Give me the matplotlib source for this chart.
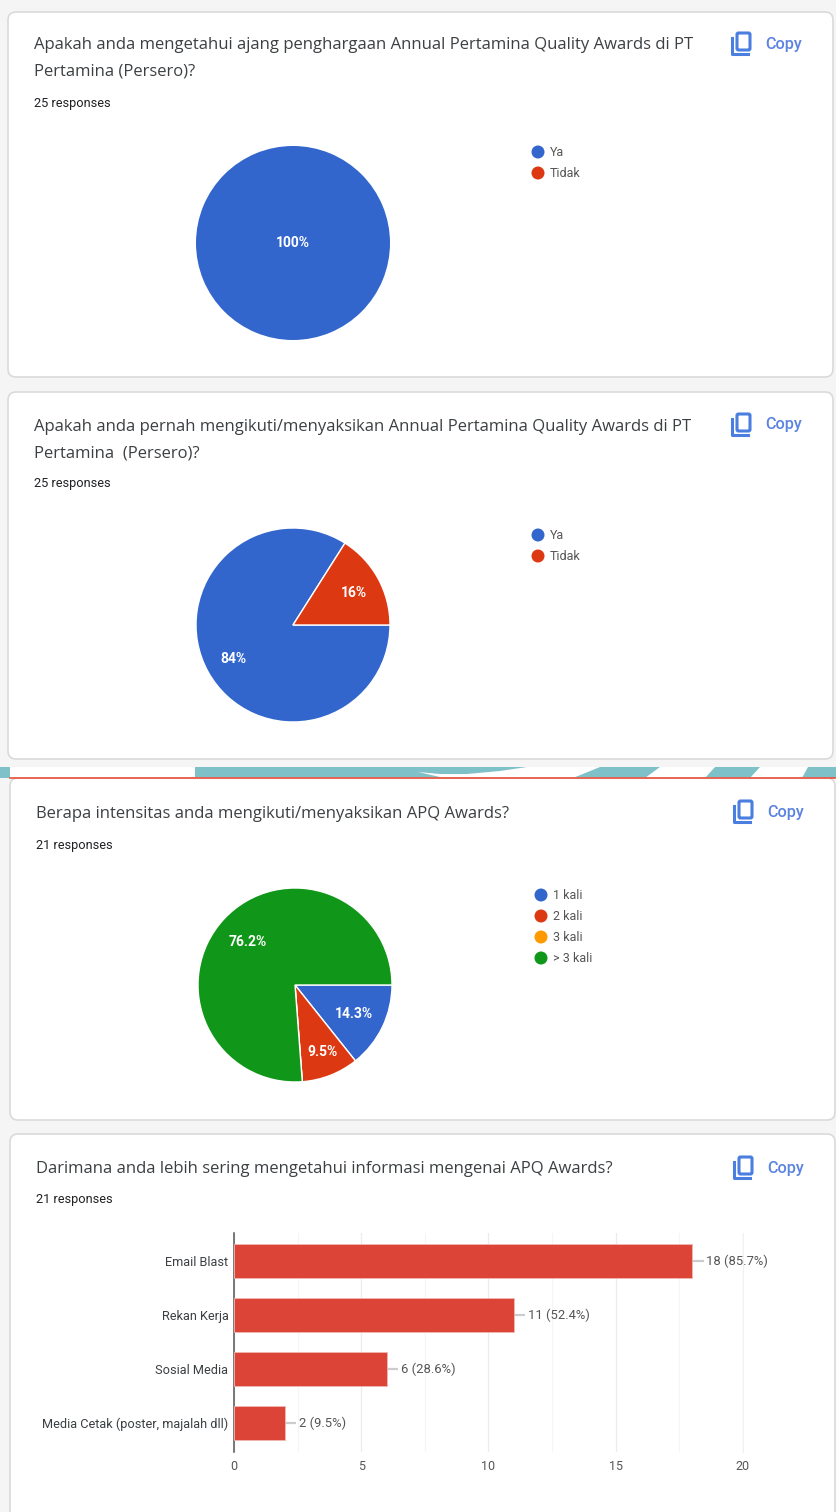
#!/usr/bin/env python3
"""Four Google Forms summary cards: three pies and one bar chart."""

import matplotlib
matplotlib.use("Agg")
import matplotlib.pyplot as plt
from matplotlib.patches import FancyBboxPatch, Polygon, Rectangle, Circle

W, H = 837, 1512

# data
q1_title = ["Apakah anda mengetahui ajang penghargaan Annual Pertamina Quality Awards di PT",
            "Pertamina (Persero)?"]
q2_title = ["Apakah anda pernah mengikuti/menyaksikan Annual Pertamina Quality Awards di PT",
            "Pertamina  (Persero)?"]
q3_title = ["Berapa intensitas anda mengikuti/menyaksikan APQ Awards?"]
q4_title = ["Darimana anda lebih sering mengetahui informasi mengenai APQ Awards?"]

q1_labels = ["Ya", "Tidak"]
q1_values = [100, 0]
q2_labels = ["Ya", "Tidak"]
q2_values = [84, 16]
q3_labels = ["1 kali", "2 kali", "3 kali", "> 3 kali"]
q3_values = [14.3, 9.5, 0, 76.2]

bar_labels = ["Email Blast", "Rekan Kerja", "Sosial Media", "Media Cetak (poster, majalah dll)"]
bar_values = [18, 11, 6, 2]
bar_texts = ["18 (85.7%)", "11 (52.4%)", "6 (28.6%)", "2 (9.5%)"]
bar_ticks = [0, 5, 10, 15, 20]

BLUE = "#3366cc"
RED = "#dc3912"
ORANGE = "#ff9900"
GREEN = "#109618"
TEAL = "#7fc1c9"
PIE_COLORS = [BLUE, RED, ORANGE, GREEN]

plt.rcParams["font.family"] = ["Roboto", "DejaVu Sans"]

fig = plt.figure(figsize=(W / 100, H / 100), dpi=100, facecolor="#f5f5f5")
bg = fig.add_axes([0, 0, 1, 1])
bg.set_xlim(0, W)
bg.set_ylim(H, 0)
bg.axis("off")


def inset(x0, y0, x1, y1):
    """Axes placed by pixel box, y counted from the top."""
    return fig.add_axes([x0 / W, 1 - y1 / H, (x1 - x0) / W, (y1 - y0) / H])


def card(x0, y0, x1, y1):
    bg.add_patch(FancyBboxPatch((x0, y0), x1 - x0, y1 - y0,
                                boxstyle="round,pad=0,rounding_size=8",
                                fc="white", ec="#dadada", lw=1.2))


def header(x, y, lines, responses, resp_y, copy_y, copy_x):
    for i, line in enumerate(lines):
        bg.text(x, y + 1 + i * 27, line, fontsize=11.95, color="#3c4043", va="center",
                family=["Open Sans", "DejaVu Sans"])
    bg.text(x, resp_y + 1, responses, fontsize=9.2, color="#202124", va="center")
    # copy icon
    bg.add_patch(FancyBboxPatch((copy_x + 6, copy_y - 10), 13, 17,
                                boxstyle="round,pad=0,rounding_size=1.5",
                                fc="none", ec="#4a7fe0", lw=2.2))
    bg.plot([copy_x + 1, copy_x + 1, copy_x + 17], [copy_y - 5, copy_y + 11, copy_y + 11],
            color="#4a7fe0", lw=2.2)
    bg.text(copy_x + 34, copy_y + 1, "Copy", fontsize=11.7, color="#5b83e0", va="center",
            fontweight="medium")


def pie_chart(cx, cy, values, labels, text_pos, leg_x, leg_y):
    r = 97
    ax = inset(cx - r, cy - r, cx + r, cy + r)
    edge = "white" if max(values) < 100 else "none"
    ax.pie(values, colors=PIE_COLORS, startangle=0, counterclock=False, radius=1,
           wedgeprops=dict(ec=edge, lw=1.0))
    ax.set_xlim(-1, 1)
    ax.set_ylim(-1, 1)
    ax.patch.set_alpha(0)
    shown = [v for v in values if v > 0]
    for (tx, ty), v in zip(text_pos, shown):
        # text is placed in pie axes units from its pixel position
        ax.text((tx - cx) / r, (cy - ty) / r, f"{v:g}%", fontsize=10, color="white",
                fontweight="bold", ha="center", va="center")
    for i, lab in enumerate(labels):
        y = leg_y + i * 21
        bg.add_patch(Circle((leg_x, y), 6.5, fc=PIE_COLORS[i], ec="none"))
        bg.text(leg_x + 12, y + 0.5, lab, fontsize=9, color="#555555", va="center")


bg.add_patch(Rectangle((0, 767), W, 11, fc=TEAL, ec="none"))
bg.add_patch(Rectangle((10, 767), 185, 11, fc="white", ec="none"))
bg.add_patch(Polygon([(418, 772), (440, 774), (467, 774), (500, 771), (527, 767), (600, 767),
                      (573, 778), (490, 778), (440, 777)], fc="white", ec="none"))
bg.add_patch(Polygon([(645, 778), (660, 767), (715, 767), (705, 778)], fc="white", ec="none"))
bg.add_patch(Polygon([(750, 778), (760, 767), (808, 767), (802, 778)], fc="white", ec="none"))

card(8, 12, 833, 377)
card(8, 392, 833, 759)
card(10, 778, 835, 1120)
card(10, 1134, 835, 1530)
bg.plot([10, 835], [778, 778], color="#e8503a", lw=1.2, zorder=6)

header(34, 44, q1_title, "25 responses", 102, 43, 731)
header(34, 426, q2_title, "25 responses", 483, 424, 731)
header(36, 813, q3_title, "21 responses", 844, 811, 733)
header(36, 1168, q4_title, "21 responses", 1198, 1167, 733)

pie_chart(293, 243, q1_values, q1_labels, [(293, 243)], 538, 152)
pie_chart(293, 625, q2_values, q2_labels, [(233, 659), (354, 593)], 538, 535)
pie_chart(295, 985, q3_values, q3_labels, [(354, 1014), (322, 1052), (248, 942)], 541, 895)

# bar chart
ax = inset(234, 1232.5, 743, 1451.5)
ypos = list(range(len(bar_values)))
ax.barh(ypos, bar_values, height=0.63, color="#db4437", ec="#f0b8b2", lw=0.6, zorder=3)
ax.set_ylim(len(bar_values) - 0.5 + 0.03, -0.5 - 0.03)
ax.set_xlim(0, 20)
ax.set_xticks(bar_ticks)
ax.set_xticks([2.5, 7.5, 12.5, 17.5], minor=True)
ax.grid(axis="x", which="major", color="#ececec", lw=0.9, zorder=0)
ax.grid(axis="x", which="minor", color="#f5f5f5", lw=0.8, zorder=0)
ax.tick_params(axis="both", which="both", length=0)
ax.tick_params(axis="x", labelsize=9, labelcolor="#555555", pad=6)
ax.set_yticks(ypos)
ax.set_yticklabels(bar_labels, fontsize=9.2, color="#3c4043")
ax.tick_params(axis="y", pad=4)
for s in ["top", "bottom"]:
    ax.spines[s].set_visible(False)
ax.spines["right"].set_color("#f0f0f0")
ax.spines["left"].set_color("#555555")
ax.spines["left"].set_linewidth(1.1)
ax.patch.set_alpha(0)
for y, v, t in zip(ypos, bar_values, bar_texts):
    ax.plot([v, v + 0.45], [y, y], color="#cccccc", lw=1.6, zorder=2, solid_capstyle="butt")
    ax.text(v + 0.55, y, t, fontsize=9.4, color="#555555", va="center")

fig.savefig("out.png", dpi=100, facecolor=fig.get_facecolor())
